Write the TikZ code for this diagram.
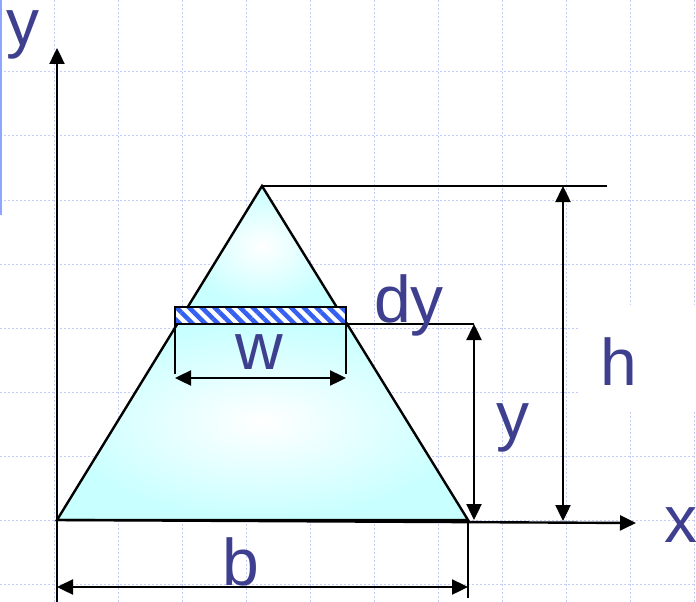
\documentclass[tikz,border=0pt]{standalone}
\usepackage{fontspec}
\setmainfont{Liberation Sans}
\usetikzlibrary{arrows.meta,patterns.meta}
\definecolor{txt}{HTML}{3F3F8F}
\definecolor{gridc}{HTML}{C4CEF6}
\definecolor{fillc}{HTML}{C8FFFF}
\definecolor{hatch}{HTML}{3560F0}
\definecolor{bar}{HTML}{8EA6FF}
\tikzset{
  ln/.style={line width=2.4bp, black},
  dim/.style={ln, {Triangle[length=16bp,width=15bp]}-{Triangle[length=16bp,width=15bp]}},
  axis/.style={ln, -{Triangle[length=16bp,width=15bp]}},
  lbl/.style={anchor=base west, inner sep=0pt, text=txt, font=\fontsize{66bp}{70bp}\selectfont},
  gridline/.style={gridc, line width=1bp, dash pattern=on 2bp off 2bp},
  glow/.style={inner color=white, outer color=fillc}
}
\begin{document}
\begin{tikzpicture}[x=1bp,y=-1bp]
\useasboundingbox (0,0) rectangle (696,602);
% grid
\foreach \gx in {54,118,...,694} \draw[gridline] (\gx,0) -- (\gx,602);
\foreach \gy in {72,136,...,584} \draw[gridline] (0,\gy) -- (696,\gy);
% white box behind h
\fill[white] (580,305) rectangle (696,412);
% slide bar
\fill[bar] (0,0) rectangle (2,215);
% points
\coordinate (O) at (57,520);
\coordinate (A) at (262,186);
\coordinate (B) at (468,520);
\coordinate (tL) at (187.7,307);
\coordinate (tR) at (336.6,307);
\coordinate (zL) at (177,324);
\coordinate (zR) at (347,324);
\coordinate (ytip) at (57,48);
\coordinate (ybot) at (57,602);
\coordinate (xtip) at (636,523);
\coordinate (Htop) at (607,186);
\coordinate (hT) at (563,186);
\coordinate (hB) at (563,521);
\coordinate (sTL) at (175,307);
\coordinate (sBR) at (346,324);
\coordinate (yext) at (474,324);
\coordinate (yB) at (474,520);
\coordinate (wL) at (175,324);
\coordinate (wR) at (346,324);
\coordinate (wLe) at (175,374);
\coordinate (wRe) at (346,374);
\coordinate (wLa) at (175,378);
\coordinate (wRa) at (346,378);
\coordinate (bBe) at (468,598);
\coordinate (bL) at (57,587);
\coordinate (bR) at (468,587);
% triangle fill (two glowing parts)
\shade[glow] (A) -- (tR) -- (tL) -- cycle;
\shade[glow] (zL) -- (zR) -- (B) -- (O) -- cycle;
\draw[ln, line join=miter] (O) -- (A) -- (B) -- cycle;
% axes
\draw[axis] (ybot) -- (ytip);
\draw[axis] (O) -- (xtip);
% top extension and h
\draw[ln] (A) -- (Htop);
\draw[dim] (hT) -- (hB);
% strip
\fill[white] (sTL) rectangle (sBR);
\fill[pattern={Lines[angle=-45,distance=9bp,line width=4.5bp]}, pattern color=hatch] (sTL) rectangle (sBR);
\draw[ln] (sTL) rectangle (sBR);
\draw[ln] (wR) -- (yext);
\draw[dim] (yext) -- (yB);
% w
\draw[ln] (wL) -- (wLe);
\draw[ln] (wR) -- (wRe);
\draw[dim] (wLa) -- (wRa);
% b
\draw[ln] (B) -- (bBe);
\draw[dim] (bL) -- (bR);
% labels
\node[lbl, text height=35bp] (ly) at (6,46) {y};
\node[lbl] (lx) at (664,542) {x};
\node[lbl] (lh) at (600,385) {h};
\node[lbl] (lyy) at (496,438) {y};
\node[lbl] (ldy) at (374,322) {dy};
\node[lbl] (lw) at (235,369) {w};
\node[lbl] (lb) at (222,585) {b};
\end{tikzpicture}
\end{document}
